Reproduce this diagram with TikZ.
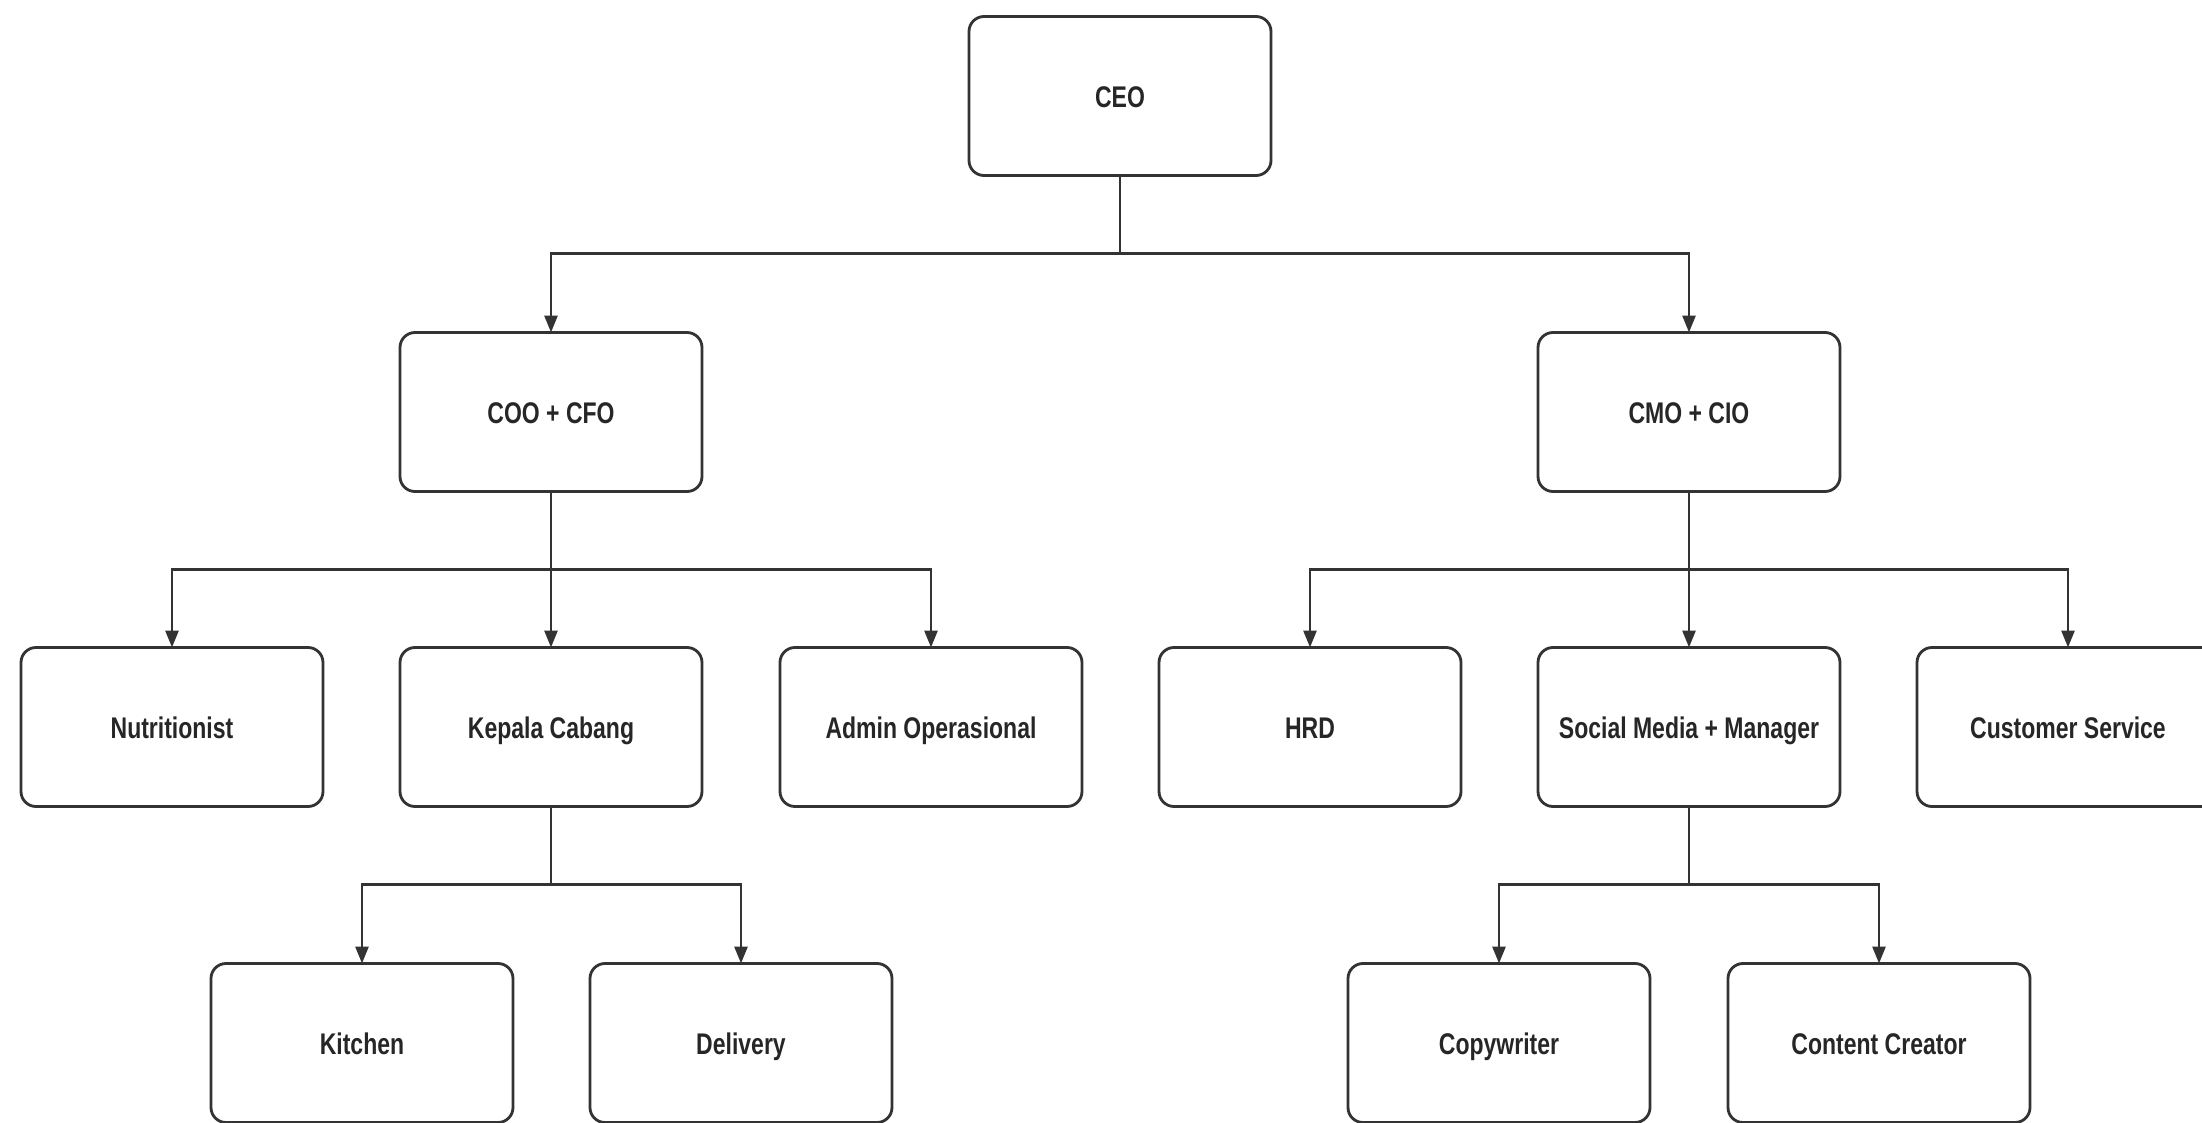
\documentclass[tikz,border=0pt]{standalone}
\usepackage{fontspec}
\setmainfont{Liberation Sans}[FakeStretch=0.77]
\usetikzlibrary{arrows.meta}
\usepackage{tkz-graph}

\begin{document}
\begin{tikzpicture}
	\useasboundingbox (0,0) rectangle (22.02,-11.23);
	\clip (0,0) rectangle (22.02,-11.23);
	\tikzset{VertexStyle/.style =
		{draw = black!80,
			shape = rectangle,
			rounded corners = 0.15cm,
			line width = 0.8pt,
			minimum width = 3.02cm,
			minimum height = 1.59cm,
			inner sep = 0pt,
			text height = 1.6ex,
			text depth = 0.4ex,
			font = \bfseries\fontsize{8.5}{10}\selectfont,
			text = black!85}}
	\tikzset{EdgeStyle/.style =
		{draw = black!80,
			line width = 0.8pt,
			-{Triangle[length=0.17cm,width=0.13cm]},
			to path = {(\tikztostart.south) -- ++(0,-0.78) -| (\tikztotarget.north)}}}
	% top
	\Vertex[x=11.2,y=-0.96,L=CEO]{CEO}
	% chiefs
	\Vertex[x=5.51,y=-4.12,L={COO + CFO}]{COO}
	\Vertex[x=16.89,y=-4.12,L={CMO + CIO}]{CMO}
	% row of staff
	\Vertex[x=1.72,y=-7.27,L=Nutritionist]{NUT}
	\Vertex[x=5.51,y=-7.27,L={Kepala Cabang}]{KC}
	\Vertex[x=9.31,y=-7.27,L={Admin Operasional}]{ADM}
	\Vertex[x=13.10,y=-7.27,L=HRD]{HRD}
	\Vertex[x=16.89,y=-7.27,L={Social Media + Manager}]{SMM}
	\Vertex[x=20.68,y=-7.27,L={Customer Service}]{CS}
	% bottom
	\Vertex[x=3.62,y=-10.43,L=Kitchen]{KIT}
	\Vertex[x=7.41,y=-10.43,L=Delivery]{DEL}
	\Vertex[x=14.99,y=-10.43,L=Copywriter]{CPW}
	\Vertex[x=18.79,y=-10.43,L={Content Creator}]{CC}
	\Edges(CEO,COO)
	\Edges(CEO,CMO)
	\Edges(COO,NUT)
	\Edges(COO,KC)
	\Edges(COO,ADM)
	\Edges(CMO,HRD)
	\Edges(CMO,SMM)
	\Edges(CMO,CS)
	\Edges(KC,KIT)
	\Edges(KC,DEL)
	\Edges(SMM,CPW)
	\Edges(SMM,CC)
\end{tikzpicture}
\end{document}
